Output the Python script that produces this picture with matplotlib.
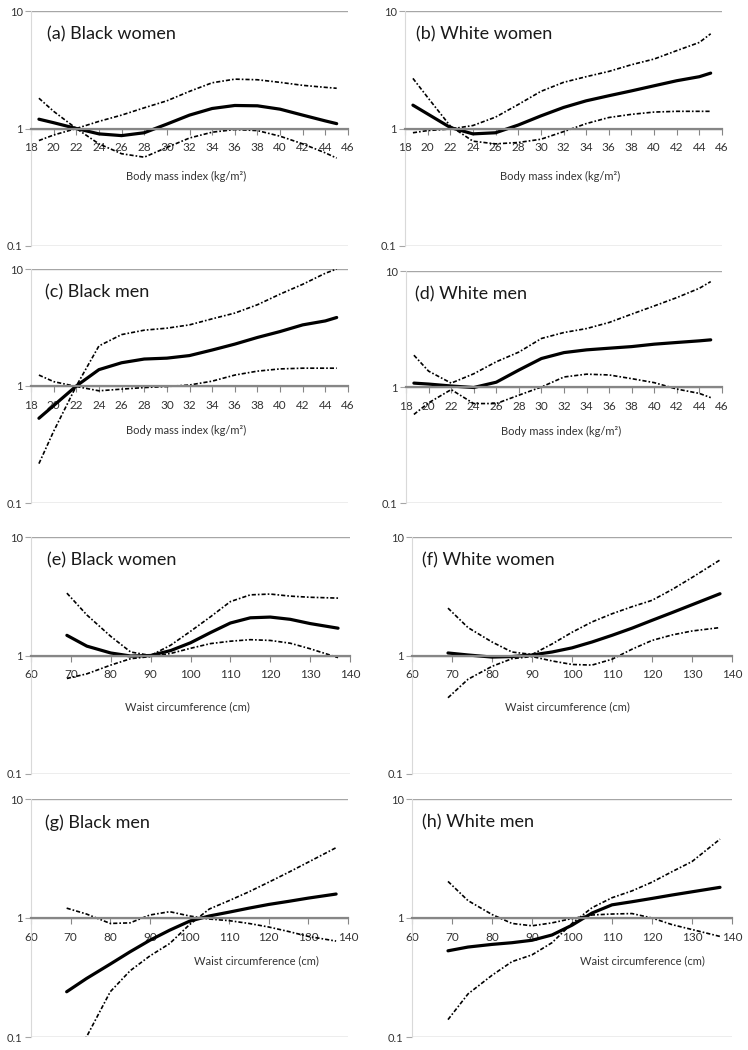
import matplotlib.pyplot as plt

plt.rcParams['font.family'] = ['Lato', 'DejaVu Sans']

# x grids (BMI in kg/m2, waist in cm)
bmi_x = [18.7, 20, 22, 24, 26, 28, 30, 32, 34, 36, 38, 40, 42, 44, 45]
waist_x = [69, 74, 80, 85, 90, 95, 100, 105, 110, 115, 120, 125, 130, 137]
bmi_ticks = list(range(18, 47, 2))
waist_ticks = list(range(60, 141, 10))

# (a) Black women, BMI
a_est = [1.2, 1.12, 1.0, 0.9, 0.87, 0.92, 1.09, 1.3, 1.48, 1.57, 1.56, 1.46, 1.3, 1.16, 1.1]
a_ci1 = [0.79, 0.88, 1.0, 1.15, 1.3, 1.5, 1.72, 2.07, 2.45, 2.63, 2.6, 2.47, 2.33, 2.24, 2.2]
a_ci2 = [1.81, 1.4, 1.0, 0.74, 0.61, 0.57, 0.69, 0.83, 0.93, 0.98, 0.96, 0.86, 0.74, 0.62, 0.56]

# (b) White women, BMI
b_est = [1.58, 1.33, 1.02, 0.9, 0.92, 1.07, 1.28, 1.51, 1.72, 1.9, 2.09, 2.31, 2.55, 2.76, 2.96]
b_ci1 = [0.92, 0.96, 0.99, 1.06, 1.25, 1.6, 2.07, 2.47, 2.76, 3.06, 3.49, 3.9, 4.6, 5.4, 6.4]
b_ci2 = [2.67, 1.84, 1.05, 0.78, 0.74, 0.76, 0.81, 0.94, 1.1, 1.24, 1.32, 1.38, 1.4, 1.4, 1.4]

# (c) Black men, BMI
c_est = [0.53, 0.68, 1.0, 1.38, 1.58, 1.7, 1.73, 1.82, 2.03, 2.28, 2.6, 2.92, 3.33, 3.6, 3.85]
c_ci1 = [0.217, 0.41, 1.0, 2.2, 2.75, 3.0, 3.12, 3.33, 3.75, 4.2, 4.95, 6.1, 7.4, 9.2, 10.0]
c_ci2 = [1.24, 1.09, 0.99, 0.91, 0.94, 0.97, 0.99, 1.02, 1.1, 1.24, 1.34, 1.4, 1.42, 1.42, 1.42]

# (d) White men, BMI
d_est = [1.08, 1.06, 1.02, 0.99, 1.1, 1.4, 1.76, 1.98, 2.09, 2.16, 2.23, 2.34, 2.42, 2.5, 2.55]
d_ci1 = [1.88, 1.37, 1.08, 1.3, 1.65, 2.0, 2.62, 2.95, 3.19, 3.6, 4.25, 5.0, 5.9, 7.1, 8.1]
d_ci2 = [0.58, 0.73, 0.95, 0.72, 0.72, 0.85, 1.0, 1.22, 1.29, 1.27, 1.18, 1.09, 0.96, 0.88, 0.81]

# (e) Black women, waist
e_est = [1.48, 1.2, 1.05, 0.99, 1.0, 1.1, 1.28, 1.56, 1.88, 2.08, 2.11, 2.02, 1.86, 1.7]
e_ci1 = [3.36, 2.2, 1.45, 1.07, 1.0, 1.22, 1.6, 2.12, 2.85, 3.25, 3.3, 3.17, 3.1, 3.05]
e_ci2 = [0.64, 0.7, 0.83, 0.94, 0.98, 1.04, 1.15, 1.26, 1.32, 1.36, 1.34, 1.27, 1.14, 0.96]

# (f) White women, waist
f_est = [1.05, 1.01, 0.97, 0.98, 1.01, 1.07, 1.16, 1.3, 1.48, 1.7, 1.98, 2.3, 2.68, 3.32]
f_ci1 = [2.51, 1.72, 1.3, 1.07, 1.02, 1.25, 1.57, 1.92, 2.25, 2.58, 2.92, 3.6, 4.55, 6.4]
f_ci2 = [0.44, 0.63, 0.81, 0.94, 0.98, 0.9, 0.84, 0.83, 0.93, 1.13, 1.34, 1.49, 1.61, 1.72]

# (g) Black men, waist
g_est = [0.24, 0.31, 0.41, 0.52, 0.65, 0.79, 0.94, 1.04, 1.12, 1.21, 1.3, 1.38, 1.47, 1.59]
g_ci1 = [0.06, 0.1, 0.24, 0.36, 0.48, 0.61, 0.88, 1.19, 1.4, 1.66, 2.0, 2.42, 2.95, 3.9]
g_ci2 = [1.21, 1.08, 0.9, 0.91, 1.06, 1.13, 1.04, 0.98, 0.95, 0.9, 0.84, 0.77, 0.7, 0.64]

# (h) White men, waist
h_est = [0.53, 0.57, 0.6, 0.62, 0.65, 0.72, 0.87, 1.1, 1.29, 1.37, 1.46, 1.56, 1.66, 1.81]
h_ci1 = [0.14, 0.23, 0.33, 0.43, 0.49, 0.62, 0.9, 1.22, 1.48, 1.69, 2.0, 2.45, 2.98, 4.6]
h_ci2 = [2.03, 1.4, 1.07, 0.9, 0.86, 0.91, 0.99, 1.06, 1.08, 1.09, 1.0, 0.88, 0.8, 0.7]

titles = ["(a) Black women", "(b) White women", "(c) Black men", "(d) White men",
          "(e) Black women", "(f) White women", "(g) Black men", "(h) White men"]
bmi_label = "Body mass index (kg/m²)"
waist_label = "Waist circumference (cm)"

panels = [
    (bmi_x, a_est, a_ci1, a_ci2, "bmi"),
    (bmi_x, b_est, b_ci1, b_ci2, "bmi"),
    (bmi_x, c_est, c_ci1, c_ci2, "bmi"),
    (bmi_x, d_est, d_ci1, d_ci2, "bmi"),
    (waist_x, e_est, e_ci1, e_ci2, "waist"),
    (waist_x, f_est, f_ci1, f_ci2, "waist"),
    (waist_x, g_est, g_ci1, g_ci2, "waist"),
    (waist_x, h_est, h_ci1, h_ci2, "waist"),
]

# layout in pixels: left, top, right, bottom
W, H = 748, 1050
boxes = [
    (31, 11, 348, 246), (405, 11, 722, 246),
    (31, 269, 348, 503), (406, 271, 722, 503),
    (31, 537, 350, 774), (412, 537, 732, 774),
    (31, 799, 348, 1037), (412, 799, 732, 1037),
]
title_x = [0.05, 0.035, 0.045, 0.03, 0.05, 0.03, 0.044, 0.03]
label_pos = [(0.49, 0.294), (0.49, 0.294), (0.49, 0.31), (0.49, 0.31),
             (0.49, 0.283), (0.485, 0.283), (0.71, 0.32), (0.72, 0.32)]

fig = plt.figure(figsize=(W / 100, H / 100), dpi=100)

ci_style = (0, (2.5, 1.2, 1, 1.2))

for i, (x, est, ci1, ci2, kind) in enumerate(panels):
    l, t, r, b = boxes[i]
    ax = fig.add_axes([l / W, 1 - b / H, (r - l) / W, (b - t) / H])

    ax.plot(x, ci1, color="black", lw=1.2, ls=ci_style)
    ax.plot(x, ci2, color="black", lw=1.2, ls=ci_style)
    ax.plot(x, est, color="black", lw=2.3, solid_capstyle="round")

    ax.set_yscale("log")
    ax.set_ylim(0.1, 10)
    ax.set_yticks([0.1, 1, 10])
    ax.set_yticklabels(["0.1", "1", "10"])
    ax.yaxis.set_minor_locator(plt.NullLocator())

    if kind == "bmi":
        ax.set_xlim(18, 46)
        ax.set_xticks(bmi_ticks)
        xlabel = bmi_label
    else:
        ax.set_xlim(60, 140)
        ax.set_xticks(waist_ticks)
        xlabel = waist_label

    for s in ["top", "right"]:
        ax.spines[s].set_visible(False)
    ax.spines["left"].set_color("#d9d9d9")
    ax.spines["left"].set_linewidth(0.8)
    ax.spines["bottom"].set_position(("data", 1))
    ax.spines["bottom"].set_color("#868686")
    ax.spines["bottom"].set_linewidth(1.6)

    ax.yaxis.grid(True, color="#a6a6a6", lw=1.0)
    ax.set_axisbelow(True)

    ax.tick_params(axis="y", length=4, color="#a6a6a6", labelsize=8,
                   labelcolor="#333333", pad=2)
    ax.tick_params(axis="x", length=4, color="#868686", labelsize=8.5,
                   labelcolor="#333333", pad=6)

    ax.text(title_x[i], 0.9, titles[i], transform=ax.transAxes,
            fontsize=13, ha="left", va="center", color="#1a1a1a")
    lx, ly = label_pos[i]
    ax.text(lx, ly, xlabel, transform=ax.transAxes, fontsize=8,
            ha="center", va="center", color="#333333")

fig.savefig("out.png", dpi=100)
